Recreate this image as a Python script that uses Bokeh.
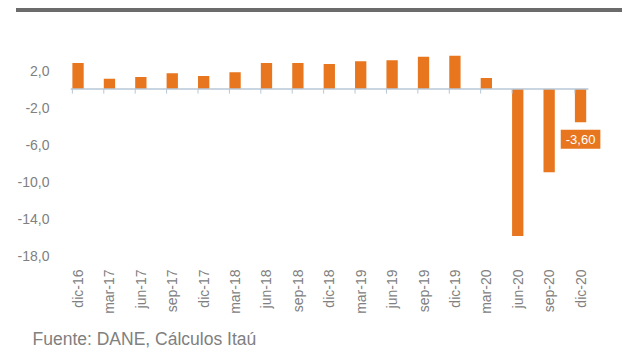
from bokeh.plotting import figure
from bokeh.models import (Range1d, FixedTicker, CustomJSTickFormatter, Div,
                          Label, Title)
from bokeh.layouts import column
from bokeh.embed import file_html
from bokeh.resources import INLINE

# ---- data ----
categories = ["dic-16", "mar-17", "jun-17", "sep-17", "dic-17", "mar-18",
              "jun-18", "sep-18", "dic-18", "mar-19", "jun-19", "sep-19",
              "dic-19", "mar-20", "jun-20", "sep-20", "dic-20"]
values = [2.8, 1.1, 1.3, 1.7, 1.4, 1.8, 2.8, 2.8, 2.7, 3.0, 3.1, 3.5,
          3.6, 1.2, -15.9, -9.0, -3.6]
y_ticks = [2, -2, -6, -10, -14, -18]
source_text = "Fuente: DANE, Cálculos Itaú"

ORANGE = "#E8761F"
GRAY_TXT = "#808080"
FONT = "Liberation Sans"

idx = list(range(len(categories)))

# ---- header with thick rule ----
top = Div(text="", width=606, height=13, margin=(8, 0, 0, 16),
          styles={"border-top": "4px solid #6b6b6b", "box-sizing": "border-box"})

# ---- main chart ----
p = figure(width=622, height=327, toolbar_location=None, output_backend="svg",
           title=None, x_range=Range1d(-0.24, 16.89), y_range=Range1d(-18, 6),
           min_border_left=70, min_border_right=14, min_border_top=12,
           min_border_bottom=93)
p.grid.visible = False
p.outline_line_color = None
p.background_fill_color = "white"
p.border_fill_color = "white"

p.vbar(x=idx, top=values, bottom=0, width=0.36, fill_color=ORANGE,
       line_color=None)

# zero line with small tick marks
p.line(x=[idx[0] - 0.24, idx[-1] + 0.25], y=[0, 0], line_color="#b7c7d6",
       line_width=1.5)
tick_x = [i - 0.18 for i in idx]
p.segment(x0=tick_x, y0=[0] * len(idx), x1=tick_x, y1=[-0.5] * len(idx),
          line_color="#b7c7d6", line_width=1)

# y axis
ya = p.yaxis[0]
ya.ticker = FixedTicker(ticks=y_ticks)
ya.formatter = CustomJSTickFormatter(code="return tick.toFixed(1).replace('.', ',');")
ya.axis_line_color = None
ya.major_tick_line_color = None
ya.minor_tick_line_color = None
ya.major_label_standoff = 15
ya.major_label_text_font = FONT
ya.major_label_text_font_size = "14px"
ya.major_label_text_color = GRAY_TXT

# x axis
xa = p.xaxis[0]
xa.ticker = FixedTicker(ticks=idx)
xa.formatter = CustomJSTickFormatter(args=dict(labels=categories),
                                     code="return labels[Math.round(tick)];")
xa.major_label_orientation = 1.5707963
xa.axis_line_color = None
xa.major_tick_line_color = None
xa.minor_tick_line_color = None
xa.major_label_standoff = 8
xa.major_label_text_font = FONT
xa.major_label_text_font_size = "14px"
xa.major_label_text_color = GRAY_TXT
# spacer between tick labels and the source line
xa.axis_label = "\u00a0"
xa.axis_label_text_font_size = "2px"
xa.axis_label_standoff = 4

# value label on last bar
last = values[-1]
p.add_layout(Label(x=idx[-1], y=last, text=f"{last:.2f}".replace(".", ","),
                   text_align="center", text_baseline="middle", y_offset=-17,
                   text_color="white", text_font=FONT, text_font_size="13px",
                   background_fill_color=ORANGE, padding=5))

# source
p.add_layout(Title(text=source_text, align="left", offset=-38,
                   text_font=FONT, text_font_size="17.5px",
                   text_font_style="normal", text_color=GRAY_TXT,
                   vertical_align="bottom", standoff=0), "below")

layout = column(top, p, spacing=0)
open("out.html", "w").write(file_html(layout, INLINE))
